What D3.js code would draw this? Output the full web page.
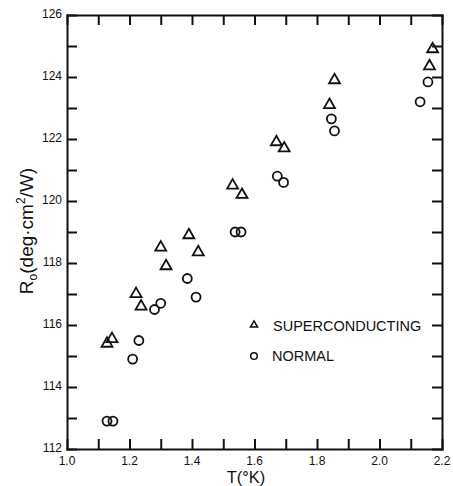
<!DOCTYPE html>
<html>
<head>
<meta charset="utf-8">
<script src="https://cdn.jsdelivr.net/npm/d3@7"></script>
<style>
  body { margin: 0; background: #fff; }
  svg text { font-family: "Liberation Sans", Arial, sans-serif; fill: #111; }
</style>
</head>
<body>
<svg id="chart"></svg>
<script>
// superconducting points (triangles)
const scT = [1.128, 1.144, 1.221, 1.237, 1.30, 1.317, 1.39, 1.42, 1.53, 1.56, 1.67, 1.695, 1.84, 1.856, 2.16, 2.17]
const scR = [115.4, 115.55, 117.0, 116.6, 118.5, 117.9, 118.9, 118.35, 120.5, 120.2, 121.9, 121.7, 123.1, 123.9, 124.35, 124.9]

// normal points (circles)
const nT = [1.128, 1.147, 1.21, 1.23, 1.28, 1.30, 1.385, 1.413, 1.538, 1.557, 1.673, 1.693, 1.846, 1.856, 2.13, 2.155]
const nR = [112.9, 112.9, 114.9, 115.5, 116.5, 116.7, 117.5, 116.9, 119.0, 119.0, 120.8, 120.6, 122.65, 122.26, 123.2, 123.84]

const xTickLabels = ['1.0', '1.2', '1.4', '1.6', '1.8', '2.0', '2.2']
const yTickLabels = ['112', '114', '116', '118', '120', '122', '124', '126']

const width = 453
const height = 486
const m = { left: 67, right: 442, top: 15, bottom: 449 }

const svg = d3.select('#chart')
    .attr('width', width)
    .attr('height', height)

const x = d3.scaleLinear().domain([1.0, 2.2]).range([m.left, m.right])
const y = d3.scaleLinear().domain([112, 126]).range([m.bottom, m.top])

const xMinor = d3.range(0, 13).map(i => 1.0 + i * 0.1)
const yMinor = d3.range(112, 127)
const tickLen = 10

// frame with inward ticks on all four sides
svg.append('g')
    .attr('transform', `translate(0,${m.bottom})`)
    .call(d3.axisBottom(x).tickValues(xMinor).tickSize(-tickLen).tickSizeOuter(0).tickFormat(''))
svg.append('g')
    .attr('transform', `translate(0,${m.top})`)
    .call(d3.axisTop(x).tickValues(xMinor).tickSize(-tickLen).tickSizeOuter(0).tickFormat(''))
svg.append('g')
    .attr('transform', `translate(${m.left},0)`)
    .call(d3.axisLeft(y).tickValues(yMinor).tickSize(-tickLen).tickSizeOuter(0).tickFormat(''))
svg.append('g')
    .attr('transform', `translate(${m.right},0)`)
    .call(d3.axisRight(y).tickValues(yMinor).tickSize(-tickLen).tickSizeOuter(0).tickFormat(''))

svg.selectAll('.domain').attr('stroke', '#111').attr('stroke-width', 2).attr('stroke-linecap', 'square')
svg.selectAll('.tick line').attr('stroke', '#111').attr('stroke-width', 2)

// tick labels
svg.append('g')
    .selectAll('text')
    .data(xTickLabels)
    .join('text')
    .text(d => d)
    .attr('x', d => x(+d))
    .attr('y', m.bottom + 16)
    .attr('text-anchor', 'middle')
    .style('font-size', '12px')

svg.append('g')
    .selectAll('text')
    .data(yTickLabels)
    .join('text')
    .text(d => d)
    .attr('x', m.left - 5)
    .attr('y', d => y(+d) + 2.5)
    .attr('text-anchor', 'end')
    .style('font-size', '12px')

// axis titles
svg.append('text')
    .attr('x', 246)
    .attr('y', 482.5)
    .attr('text-anchor', 'middle')
    .style('font-size', '16.5px')
    .text('T(°K)')

const yl = svg.append('text')
    .attr('transform', 'translate(33,231) rotate(-90)')
    .attr('text-anchor', 'middle')
    .style('font-size', '19px')
yl.append('tspan').text('R')
yl.append('tspan').attr('dy', 4).style('font-size', '12px').text('o')
yl.append('tspan').attr('dy', -4).text('(deg·cm')
yl.append('tspan').attr('dy', -8).style('font-size', '12px').text('2')
yl.append('tspan').attr('dy', 8).text('/W)')

// markers
const tri = d3.symbol().type(d3.symbolTriangle).size(52)
const triSmall = d3.symbol().type(d3.symbolTriangle).size(22)

svg.append('g')
    .selectAll('path')
    .data(scT)
    .join('path')
    .attr('d', tri)
    .attr('transform', (d, i) => `translate(${x(d)},${y(scR[i])})`)
    .attr('fill', 'none')
    .attr('stroke', '#111')
    .attr('stroke-width', 1.8)

svg.append('g')
    .selectAll('circle')
    .data(nT)
    .join('circle')
    .attr('cx', d => x(d))
    .attr('cy', (d, i) => y(nR[i]))
    .attr('r', 4.5)
    .attr('fill', 'none')
    .attr('stroke', '#111')
    .attr('stroke-width', 1.8)

// legend
svg.append('path')
    .attr('d', triSmall)
    .attr('transform', 'translate(254,325)')
    .attr('fill', 'none')
    .attr('stroke', '#111')
    .attr('stroke-width', 1.5)
svg.append('text')
    .attr('x', 273).attr('y', 331)
    .style('font-size', '14.5px')
    .text('SUPERCONDUCTING')

svg.append('circle')
    .attr('cx', 254).attr('cy', 356).attr('r', 3.3)
    .attr('fill', 'none')
    .attr('stroke', '#111')
    .attr('stroke-width', 1.5)
svg.append('text')
    .attr('x', 272).attr('y', 361)
    .style('font-size', '14.5px')
    .text('NORMAL')
</script>
</body>
</html>
